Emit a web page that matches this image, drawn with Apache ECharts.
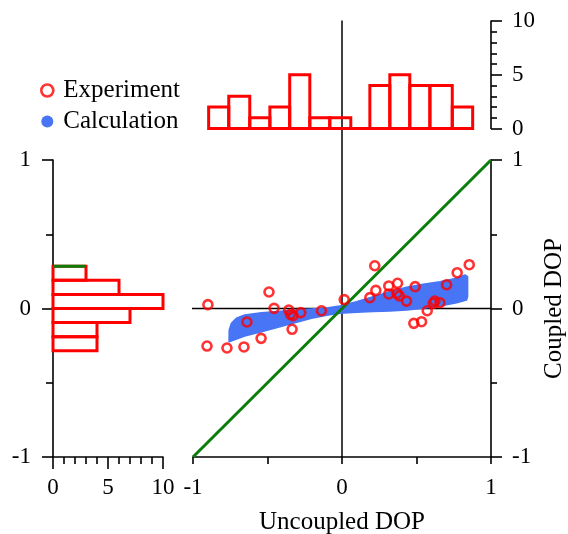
<!DOCTYPE html>
<html>
<head>
<meta charset="utf-8">
<script src="https://cdn.jsdelivr.net/npm/echarts@6/dist/echarts.min.js"></script>
<style>html,body{margin:0;padding:0;background:#fff;}#c{width:568px;height:534px;}</style>
</head>
<body>
<div id="c"></div>
<script>
// Experiment points (Uncoupled DOP, Coupled DOP)
const expX = [-0.900,-0.906,-0.772,-0.658,-0.638,-0.543,-0.490,-0.456,-0.357,-0.346,-0.329,-0.277,-0.335,-0.138,0.015,
  0.220,0.187,0.227,0.314,0.373,0.314,0.370,0.385,0.433,0.491,0.482,0.534,0.572,0.612,0.623,0.657,0.702,0.773,0.854];
const expY = [0.026,-0.253,-0.266,-0.259,-0.091,-0.201,0.111,0.001,-0.010,-0.039,-0.048,-0.028,-0.140,-0.015,0.060,
  0.288,0.073,0.122,0.152,0.170,0.098,0.102,0.085,0.050,0.147,-0.100,-0.089,-0.015,0.035,0.050,0.039,0.160,0.241,0.295];
// Calculation band outline (upper edge left->right, lower edge right->left)
const bandTop = [[-0.757,-0.145],[-0.742,-0.100],[-0.709,-0.066],[-0.653,-0.044],[-0.541,-0.028],[-0.429,-0.021],
  [-0.317,-0.010],[-0.205,-0.003],[-0.093,0.005],[-0.015,0.017],[0.097,0.046],[0.209,0.080],[0.321,0.113],
  [0.433,0.143],[0.545,0.163],[0.657,0.180],[0.769,0.203],[0.825,0.226],[0.843,0.214]];
const bandBottom = [[0.843,0.080],[0.836,0.057],[0.769,0.039],[0.657,0.017],[0.545,0.001],[0.433,-0.010],
  [0.321,-0.017],[0.209,-0.021],[0.097,-0.026],[-0.015,-0.032],[-0.093,-0.044],[-0.205,-0.066],[-0.317,-0.096],
  [-0.429,-0.127],[-0.541,-0.156],[-0.653,-0.185],[-0.758,-0.224]];
// Top histogram (Uncoupled DOP bins)
const topEdges = [-0.895,-0.760,-0.619,-0.484,-0.351,-0.216,-0.082,0.059,0.187,0.321,0.455,0.590,0.740,0.877];
const topCounts = [2,3,1,2,5,1,1,0,4,5,4,4,2];
// Left histogram (Coupled DOP bins)
const leftEdges = [0.285,0.19,0.095,0,-0.095,-0.19,-0.285];
const leftCounts = [3,6,10,7,4,4];
// reference lines
const diagLine = [[-1,-1],[1,1]];
const greenCap = [[0,0.285],[3,0.285]];
const zeroV = [[0,-1],[0,1.94]];
const zeroH = [[-1.943,0],[1,0]];

const topData = topCounts.map((c,i)=>[topEdges[i], topEdges[i+1], c]);
const leftData = leftCounts.map((c,i)=>[leftEdges[i], leftEdges[i+1], c]);
const bandPts = bandTop.concat(bandBottom);

const FONT = 'Liberation Serif';
const BLUE = '#4775f5';
const RED = '#ff0000';
const GREEN = '#0b7d0b';
const axisLine = {show:true, onZero:false, lineStyle:{color:'#000', width:1.6}};
const lbl = (m)=>({color:'#000', fontFamily:FONT, fontSize:23, margin:m});

const chart = echarts.init(document.getElementById('c'), null, {renderer:'canvas'});
chart.setOption({
  backgroundColor:'#fff',
  animation:false,
  legend:{
    orient:'vertical', left:35, top:73, itemWidth:12, itemHeight:12, itemGap:6,
    textStyle:{fontFamily:FONT, fontSize:25, lineHeight:25, color:'#000', padding:[0,0,0,5]},
    data:[
      {name:'Experiment', icon:'circle', itemStyle:{color:'#fff', borderColor:RED, borderWidth:2.6}},
      {name:'Calculation', icon:'circle', itemStyle:{color:BLUE, borderWidth:0}}
    ]
  },
  grid:[
    {left:193, top:160, width:298, height:297, containLabel:false, outerBoundsMode:'none'},
    {left:53, top:160, width:110, height:297, containLabel:false, outerBoundsMode:'none'},
    {left:193, top:21, width:298, height:107.5, containLabel:false, outerBoundsMode:'none'}
  ],
  xAxis:[
    {gridIndex:0, type:'value', min:-1, max:1, interval:1, position:'bottom',
      axisLine:axisLine, splitLine:{show:false},
      axisTick:{show:true, length:7, lineStyle:{color:'#000', width:1.6}},
      minorTick:{show:true, splitNumber:2, length:7, lineStyle:{color:'#000', width:1.6}},
      axisLabel:lbl(19),
      name:'Uncoupled DOP', nameLocation:'middle', nameGap:53,
      nameTextStyle:{fontFamily:FONT, fontSize:25, color:'#000'}},
    {gridIndex:1, type:'value', min:0, max:10, interval:5, position:'bottom',
      axisLine:axisLine, splitLine:{show:false},
      axisTick:{show:true, length:12, lineStyle:{color:'#000', width:1.6}},
      minorTick:{show:true, splitNumber:5, length:7, lineStyle:{color:'#000', width:1.6}},
      axisLabel:lbl(19)},
    {gridIndex:2, type:'value', min:-1, max:1, show:false}
  ],
  yAxis:[
    {gridIndex:0, type:'value', min:-1, max:1, interval:1, position:'right',
      axisLine:axisLine, splitLine:{show:false},
      axisTick:{show:true, length:11, lineStyle:{color:'#000', width:1.6}},
      minorTick:{show:true, splitNumber:2, length:6, lineStyle:{color:'#000', width:1.6}},
      axisLabel:lbl(21),
      name:'Coupled DOP', nameLocation:'middle', nameGap:49, nameRotate:90,
      nameTextStyle:{fontFamily:FONT, fontSize:25, color:'#000'}},
    {gridIndex:1, type:'value', min:-1, max:1, interval:1, position:'left',
      axisLine:axisLine, splitLine:{show:false},
      axisTick:{show:true, length:11, lineStyle:{color:'#000', width:1.6}},
      minorTick:{show:true, splitNumber:2, length:7, lineStyle:{color:'#000', width:1.6}},
      axisLabel:lbl(22)},
    {gridIndex:2, type:'value', min:0, max:10, interval:5, position:'right',
      axisLine:axisLine, splitLine:{show:false},
      axisTick:{show:true, length:11, lineStyle:{color:'#000', width:1.6}},
      minorTick:{show:true, splitNumber:5, length:6, lineStyle:{color:'#000', width:1.6}},
      axisLabel:lbl(21)}
  ],
  series:[
    {type:'line', xAxisIndex:0, yAxisIndex:0, data:zeroV, clip:false, symbol:'none', silent:true,
      lineStyle:{color:'#000', width:1.5}, z:1},
    {type:'line', xAxisIndex:0, yAxisIndex:0, data:zeroH, clip:false, symbol:'none', silent:true,
      lineStyle:{color:'#000', width:1.5}, z:1},
    {name:'Calculation', type:'custom', xAxisIndex:0, yAxisIndex:0, data:bandPts, z:2,
      encode:{x:0, y:1},
      itemStyle:{color:BLUE},
      renderItem:function(params, api){
        if (params.dataIndex !== 0) return null;
        const pts = bandPts.map(p=>api.coord(p));
        return {type:'polygon', shape:{points:pts}, style:{fill:BLUE, stroke:BLUE, lineWidth:1.5, lineJoin:'round'}};
      }},
    {type:'line', xAxisIndex:0, yAxisIndex:0, data:diagLine, symbol:'none', silent:true,
      lineStyle:{color:GREEN, width:3}, z:3},
    {name:'Experiment', type:'scatter', xAxisIndex:0, yAxisIndex:0, z:4,
      data:expX.map((x,i)=>[x, expY[i]]), symbol:'circle', symbolSize:9,
      itemStyle:{color:'rgba(0,0,0,0)', borderColor:RED, borderWidth:2.6}},
    {type:'custom', xAxisIndex:2, yAxisIndex:2, data:topData, encode:{x:[0,1], y:2}, z:3,
      renderItem:function(params, api){
        const a = api.coord([api.value(0), api.value(2)]);
        const b = api.coord([api.value(1), 0]);
        return {type:'rect', shape:{x:a[0], y:a[1], width:b[0]-a[0], height:b[1]-a[1]},
          style:{fill:'none', stroke:RED, lineWidth:3}};
      }},
    {type:'custom', xAxisIndex:1, yAxisIndex:1, data:leftData, encode:{x:2, y:[0,1]}, z:3,
      renderItem:function(params, api){
        const a = api.coord([0, api.value(0)]);
        const b = api.coord([api.value(2), api.value(1)]);
        return {type:'rect', shape:{x:a[0], y:a[1], width:b[0]-a[0], height:b[1]-a[1]},
          style:{fill:'none', stroke:RED, lineWidth:3}};
      }},
    {type:'line', xAxisIndex:1, yAxisIndex:1, data:greenCap, symbol:'none', silent:true,
      lineStyle:{color:GREEN, width:3}, z:5}
  ]
});
</script>
</body>
</html>
